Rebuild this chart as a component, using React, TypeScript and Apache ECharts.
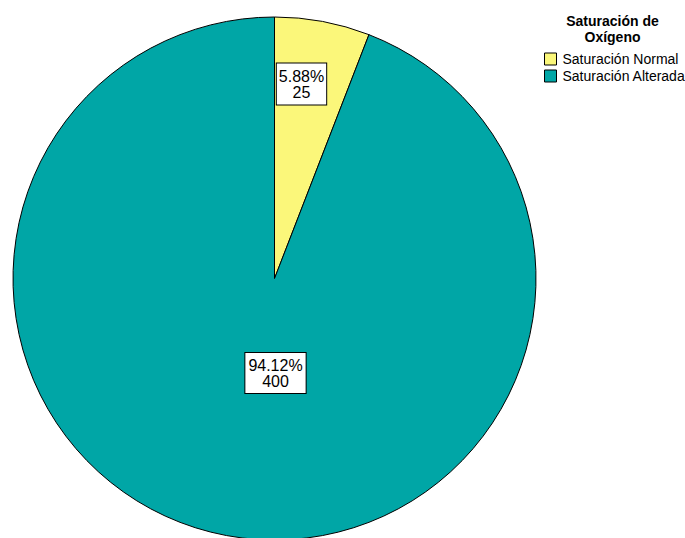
import React, { useEffect, useRef } from "react";
import * as echarts from "echarts";

const categories = ["Saturación Normal", "Saturación Alterada"];
const values = [25, 400];
const colors = ["#FBF77A", "#00A6A6"];
const legendTitle = "Saturación de\nOxígeno";

export default function App() {
  const ref = useRef<HTMLDivElement>(null);

  useEffect(() => {
    if (!ref.current) return;
    const chart = echarts.init(ref.current, null, { renderer: "svg" });
    const cx = 274.5;
    const cy = 278.5;
    const labelOffsets = [
      [27, -194.5],
      [1, 94.5],
    ];
    const labelPads = [
      [5, 2, 4, 2],
      [4, 3, 4, 3],
    ];
    const font = "'Liberation Sans', Arial, sans-serif";
    chart.setOption({
      animation: false,
      backgroundColor: "#ffffff",
      title: {
        text: legendTitle,
        left: 607.5,
        top: 8,
        textAlign: "center",
        textStyle: {
          fontFamily: font,
          fontSize: 14,
          fontWeight: "bold",
          color: "#000",
          lineHeight: 16,
        },
      },
      legend: {
        orient: "vertical",
        left: 539,
        top: 47,
        itemWidth: 12,
        itemHeight: 12,
        itemGap: 3,
        icon: "rect",
        data: categories,
        itemStyle: { borderColor: "#000", borderWidth: 1 },
        textStyle: { fontFamily: font, fontSize: 14, color: "#000", padding: [0, 0, 0, 1] },
      },
      series: [
        {
          type: "pie",
          center: [cx, cy],
          radius: 261.5,
          startAngle: 90,
          clockwise: true,
          avoidLabelOverlap: false,
          itemStyle: { borderColor: "#000", borderWidth: 1 },
          emphasis: { disabled: true },
          label: {
            show: true,
            position: "inside",
            formatter: (p: any) => `${p.percent.toFixed(2)}%\n${p.value}`,
            fontFamily: font,
            fontSize: 16,
            lineHeight: 16,
            color: "#000",
            align: "center",
            verticalAlign: "middle",
            backgroundColor: "#fff",
            borderColor: "#000",
            borderWidth: 1,
          },
          labelLine: { show: false },
          labelLayout: (params: any) => {
            const o = labelOffsets[params.dataIndex];
            return { x: cx + o[0], y: cy + o[1] };
          },
          data: categories.map((name, i) => ({
            name,
            value: values[i],
            itemStyle: { color: colors[i] },
            label: { padding: labelPads[i] },
          })),
        },
      ],
    });
    return () => chart.dispose();
  }, []);

  return (
    <div
      ref={ref}
      style={{ position: "absolute", left: 0, top: 0, width: 685, height: 538 }}
    />
  );
}
